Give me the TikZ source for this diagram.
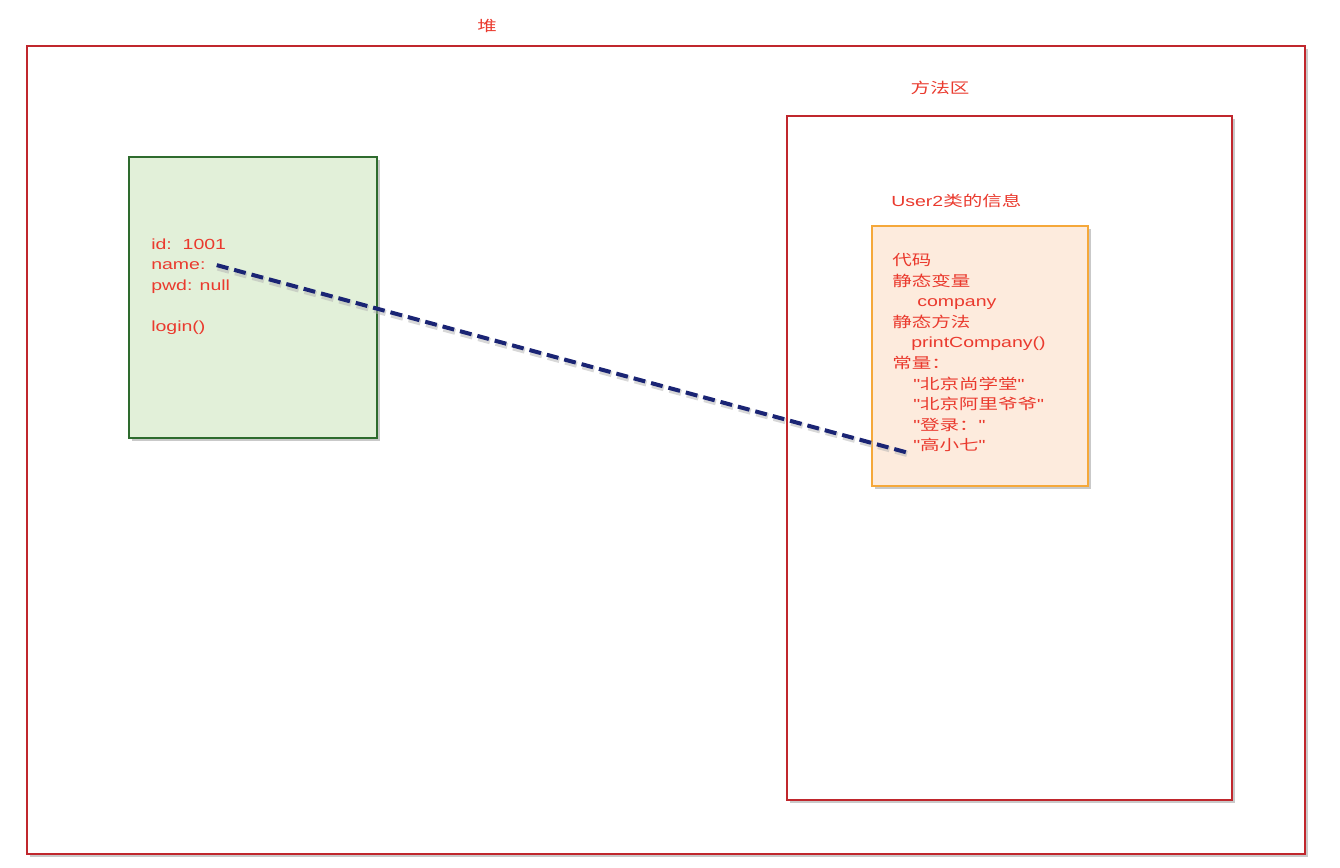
\documentclass[tikz,border=0pt]{standalone}
\usepackage{fontspec}
\usepackage[x11names, svgnames]{xcolor}
\newfontfamily\lat{Liberation Sans}[FakeStretch=1.33]
\newfontfamily\cjk{Noto Sans CJK SC}[FakeStretch=1.33]
\usetikzlibrary{shadows}
\definecolor{heapred}{HTML}{C0272D}
\definecolor{textred}{HTML}{EA3A2E}
\definecolor{objgreen}{HTML}{2E6B2E}
\definecolor{objfill}{HTML}{E2F0D9}
\definecolor{infoorange}{HTML}{F5A83A}
\definecolor{infofill}{HTML}{FDEBDD}
\definecolor{refblue}{HTML}{1A2474}
\newcommand{\Quoted}[1]{\lat"\cjk #1\lat"}
\def\lsep{20.6}

\begin{document}
\begin{tikzpicture}[x=0.75pt, y=-0.75pt,
		box shadow/.style={drop shadow={shadow xshift=2.5pt, shadow yshift=-2.5pt, opacity=0.35, fill=black!60}},
		area/.style={draw=heapred, line width=1.6pt, fill=white, box shadow},
		redtext/.style={text=textred, font=\lat\fontsize{11}{13}\selectfont, anchor=base west, inner sep=0pt},
		reference/.style={draw=refblue, line width=3pt, dash pattern=on 9pt off 4.5pt}
	]
	\useasboundingbox (0,0) rectangle (1340,868);

	\coordinate (H1) at (27,46);
	\coordinate (H2) at (1305,854);
	\coordinate (M1) at (787,116);
	\coordinate (M2) at (1232,800);

	% heap and method area
	\draw[area] (H1) rectangle (H2);
	\node[redtext, anchor=base] (heap) at (487,31) {\cjk 堆};
	\draw[area] (M1) rectangle (M2);
	\node[redtext, anchor=base] (methodarea) at (940,93) {\cjk 方法区};

	% object in the heap
	\draw[draw=objgreen, line width=1.6pt, fill=objfill, box shadow] (129,157) rectangle (377,438);
	\node[redtext] (id) at (151,249) {id:\ \ 1001};
	\node[redtext] (name) at (151,269.5) {name:};
	\node[redtext] (pwd) at (151,290) {pwd: null};
	\node[redtext] (login) at (151,331) {login()};

	% class info
	\node[redtext] (classtitle) at (891,206) {User2\cjk 类的信息};
	\draw[draw=infoorange, line width=1.6pt, fill=infofill, box shadow] (872,226) rectangle (1088,486);
	\foreach \txt/\dx/\k [count=\i] in {
			{\cjk 代码}/0/0,
			{\cjk 静态变量}/0/1,
			{company}/25/2,
			{\cjk 静态方法}/0/3,
			{printCompany()}/19/4,
			{\cjk 常量：}/0/5,
			{\Quoted{北京尚学堂}}/21/6,
			{\Quoted{北京阿里爷爷}}/21/7,
			{\Quoted{登录：}}/21/8}
		\node[redtext] (line\i) at (892+\dx, 265.5+\lsep*\k) {\txt};
	\node[redtext] (gxq) at (913, 265.5+\lsep*9) {\Quoted{高小七}};

	% reference from name to the constant
	\draw[reference, draw=black!30, line width=4.5pt, opacity=0.5] ([shift={(12,2)}]name.east) -- ([shift={(-1,10)}]gxq.west);
	\draw[reference] ([shift={(11,-0.5)}]name.east) -- ([shift={(-3,8)}]gxq.west);
\end{tikzpicture}
\end{document}
